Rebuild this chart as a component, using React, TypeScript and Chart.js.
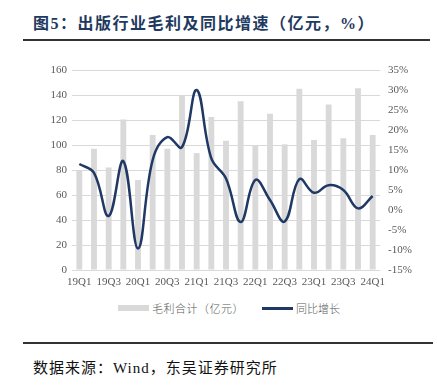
import React, { useEffect, useRef } from "react";
import { Chart, registerables } from "chart.js";

Chart.register(...registerables);

const quarters = [
  "19Q1", "19Q2", "19Q3", "19Q4",
  "20Q1", "20Q2", "20Q3", "20Q4",
  "21Q1", "21Q2", "21Q3", "21Q4",
  "22Q1", "22Q2", "22Q3", "22Q4",
  "23Q1", "23Q2", "23Q3", "23Q4",
  "24Q1",
];

const grossProfit = [
  80, 97, 82, 120.5,
  72, 108, 97, 139.5,
  93.5, 122.5, 103.5, 135,
  100, 125, 100.5, 145,
  104, 132.5, 105.5, 145.5,
  108,
];

const yoyGrowth = [
  11.5, 9.3, -1.5, 12.2,
  -9.6, 12.5, 18.2, 15.7,
  30, 12.9, 7.9, -3,
  7.5, 2.5, -2.9, 7.7,
  4.3, 6.2, 5, 0.4,
  3.5,
];

const barLabel = "毛利合计（亿元）";
const lineLabel = "同比增长";
const titleText = "图5：出版行业毛利及同比增速（亿元，%）";
const sourceText = "数据来源：Wind，东吴证券研究所";

const serif = "'Liberation Serif', 'Times New Roman', serif";
const cjk = "'Liberation Serif', 'Noto Sans CJK SC', serif";
const tickColor = "#595959";
const barColor = "#D9D9D9";
const lineColor = "#1F3864";

export default function App() {
  const ref = useRef<HTMLCanvasElement>(null);

  useEffect(() => {
    if (!ref.current) return;
    const chart = new Chart(ref.current, {
      type: "bar",
      data: {
        labels: quarters,
        datasets: [
          {
            type: "line",
            label: lineLabel,
            data: yoyGrowth,
            yAxisID: "y1",
            borderColor: lineColor,
            backgroundColor: lineColor,
            borderWidth: 2.5,
            pointRadius: 0,
            tension: 0.4,
            order: 0,
          } as any,
          {
            type: "bar",
            label: barLabel,
            data: grossProfit,
            yAxisID: "y",
            backgroundColor: barColor,
            categoryPercentage: 1,
            barPercentage: 0.4,
            order: 1,
          },
        ],
      },
      options: {
        responsive: false,
        animation: false,
        devicePixelRatio: 1,
        layout: { padding: { top: 15, left: 0, right: 0, bottom: 0 } },
        plugins: {
          legend: { display: false },
          tooltip: { enabled: false },
        },
        scales: {
          x: {
            grid: { display: false, drawTicks: false },
            border: { display: false },
            ticks: {
              autoSkip: false,
              maxRotation: 0,
              minRotation: 0,
              padding: 6,
              color: tickColor,
              font: { family: serif, size: 11 },
              callback: (_v: any, i: number) => (i % 2 === 0 ? quarters[i] : ""),
            },
            afterFit: (s: any) => {
              s.height = 25;
            },
          },
          y: {
            position: "left",
            min: 0,
            max: 160,
            grid: { color: "#D9D9D9", lineWidth: 1, drawTicks: false },
            border: { display: false },
            ticks: {
              stepSize: 20,
              padding: 5,
              color: tickColor,
              font: { family: serif, size: 11 },
            },
            afterFit: (s: any) => {
              s.width = 72;
            },
          },
          y1: {
            position: "right",
            min: -15,
            max: 35,
            grid: { display: false, drawTicks: false },
            border: { display: false },
            ticks: {
              stepSize: 5,
              padding: 8,
              color: tickColor,
              font: { family: serif, size: 11 },
              callback: (v: any) => v + "%",
            },
            afterFit: (s: any) => {
              s.width = 57;
            },
          },
        },
      },
    });
    return () => chart.destroy();
  }, []);

  return (
    <div
      style={{
        position: "absolute",
        left: 0,
        top: 0,
        width: 437,
        height: 387,
        background: "#fff",
        overflow: "hidden",
      }}
    >
      <div
        style={{
          position: "absolute",
          left: 33,
          top: 13,
          fontFamily: cjk,
          fontWeight: "bold",
          fontSize: 16,
          letterSpacing: 1.5,
          lineHeight: "22px",
          color: "#1F3A60",
          whiteSpace: "nowrap",
        }}
      >
        {titleText}
      </div>
      <div
        style={{
          position: "absolute",
          left: 23,
          top: 39,
          width: 407,
          height: 2,
          background: "#333",
        }}
      />
      <canvas
        ref={ref}
        width={437}
        height={240}
        style={{ position: "absolute", left: 0, top: 55, width: 437, height: 240 }}
      />
      <div
        style={{
          position: "absolute",
          left: 118,
          top: 305,
          width: 31,
          height: 6,
          background: barColor,
        }}
      />
      <div
        style={{
          position: "absolute",
          left: 152,
          top: 300,
          fontFamily: "'Noto Sans CJK SC', sans-serif",
          fontWeight: 300,
          fontSize: 11,
          letterSpacing: 0.5,
          lineHeight: "16px",
          color: tickColor,
          whiteSpace: "nowrap",
        }}
      >
        {barLabel}
      </div>
      <div
        style={{
          position: "absolute",
          left: 262,
          top: 307,
          width: 31,
          height: 2.5,
          background: lineColor,
        }}
      />
      <div
        style={{
          position: "absolute",
          left: 296,
          top: 300,
          fontFamily: "'Noto Sans CJK SC', sans-serif",
          fontWeight: 300,
          fontSize: 11,
          lineHeight: "16px",
          color: tickColor,
          whiteSpace: "nowrap",
        }}
      >
        {lineLabel}
      </div>
      <div
        style={{
          position: "absolute",
          left: 23,
          top: 342,
          width: 410,
          height: 2,
          background: "#333",
        }}
      />
      <div
        style={{
          position: "absolute",
          left: 33,
          top: 357,
          fontFamily: cjk,
          fontSize: 15,
          letterSpacing: 1,
          lineHeight: "22px",
          color: "#111",
          whiteSpace: "nowrap",
        }}
      >
        {sourceText}
      </div>
    </div>
  );
}
